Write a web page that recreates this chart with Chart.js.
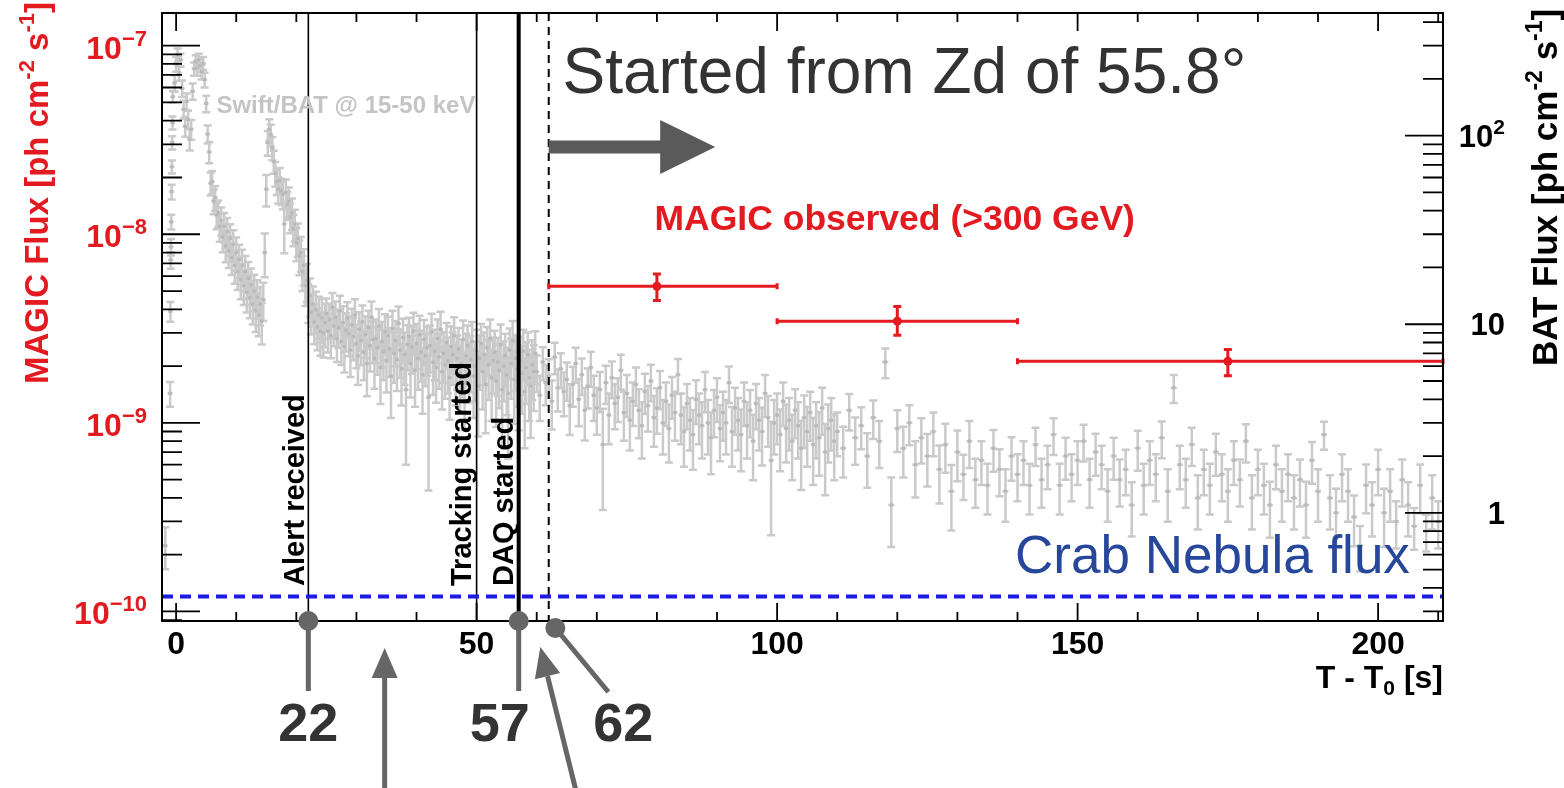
<!DOCTYPE html>
<html>
<head>
<meta charset="utf-8">
<script src="https://cdn.jsdelivr.net/npm/chart.js@4.4.1/dist/chart.umd.min.js"></script>
<style>
  html, body { margin: 0; padding: 0; background: #fff; }
</style>
</head>
<body>
<canvas id="myChart" width="1564" height="788"></canvas>
<script>
// ---- Swift/BAT 15-50 keV light curve (ph cm^-2 s^-1) ----
// pre-trigger / rise points (fine bins)
var batPreTime = [-1.8, -1.0, -0.95, -0.9, -0.85, -0.8, -0.75, -0.7, -0.65, -0.6, -0.55];
var batPreFlux = [0.67, 4.3, 11.7, 21.9, 25.7, 34.9, 50.4, 68.4, 91.8, 117, 161];
var batPreErr  = [25, 15, 12, 10, 10, 9, 9, 8, 8, 8, 7];

// 0.25 s bins from -0.25 s
var batAStart = -0.25, batAWidth = 0.25;
var batAFlux = [
  190, 240, 268, 215, 252, 178, 138, 112, 152, 122,
  96, 108, 172, 226, 247, 228, 252, 236, 218, 242,
  198, 148, 102, 82, 56, 57, 45, 47, 38, 39,
  33, 35.5, 29, 33, 26, 31, 24.5, 28.5, 22.5, 26.5,
  20.5, 24, 19, 22, 17.2, 20.5, 16, 19, 14.8, 17.5,
  13.8, 16.2, 12.8, 15, 11.8, 13.9, 11.2, 12.8, 10.4, 13.5,
  24, 52, 92, 108, 101, 86, 73, 63, 57, 52,
  58, 51, 49, 34, 50, 43, 45, 37, 39, 32,
  34, 27, 28.5, 23, 24, 19, 20.5, 16, 17, 13.2,
  14.2, 11.6, 12.8, 10.3, 11.9, 9.7, 11.2, 9.2, 10.8, 9.0,
  10.2
];
var batAErr = [
  10, 9, 8, 9, 8, 10, 11, 12, 10, 11,
  13, 12, 10, 8, 8, 9, 8, 8, 9, 8,
  9, 10, 11, 13, 14, 14, 15, 15, 16, 16,
  17, 17, 17, 18, 18, 18, 19, 19, 19, 19,
  20, 20, 20, 20, 21, 21, 21, 21, 22, 22,
  22, 22, 22, 22, 23, 23, 23, 23, 25, 23,
  26, 19, 15, 13, 13, 14, 14, 15, 15, 16,
  16, 16, 17, 30, 17, 17, 18, 18, 19, 19,
  19, 20, 20, 21, 21, 21, 22, 22, 23, 23,
  23, 24, 24, 24, 25, 25, 25, 26, 26, 26,
  26
];

// 0.25 s bins from 25 s
var batBStart = 25, batBWidth = 0.25;
var batBFlux = [
  11.4, 9.2, 10.6, 8.7, 12.3, 9.8, 10.9, 8.4,
  9.6, 11.8, 8.1, 10.2, 7.6, 9.3, 10.8, 8.9,
  7.3, 9.9, 8.6, 11.2, 7.9, 6.8, 9.4, 8.2,
  10.3, 7.1, 8.8, 6.2, 9.6, 7.7, 10.9, 8.3,
  6.6, 8.4, 7.5, 9.8, 5.9, 8.1, 7.2, 9.1,
  6.4, 8.7, 7.4, 5.3, 9.5, 7.0, 8.2, 6.5,
  10.1, 7.3, 5.8, 8.5, 6.9, 4.5, 7.8, 8.6,
  6.2, 7.6, 9.2, 5.7, 7.9, 6.6, 8.8, 7.1,
  5.4, 8.3, 6.8, 7.5, 4.1, 7.7, 9.1, 6.3,
  7.2, 5.9, 8.4, 6.7, 9.4, 5.6, 7.0, 6.1,
  8.0, 6.4, 5.2, 7.6, 6.9, 8.7, 5.8, 6.6,
  7.4, 5.5, 6.2, 8.3, 4.9, 6.8, 7.7, 5.9,
  6.5, 8.1, 5.3, 6.0, 7.2, 4.7, 6.6, 7.9,
  5.6, 6.9, 4.8, 7.5, 6.1, 8.4, 5.2, 6.4,
  7.1, 5.0, 6.3, 5.7, 7.8, 4.5, 6.0, 6.8,
  5.4, 4.3, 7.3, 6.2, 8.2, 5.1, 6.6, 5.8,
  4.9, 6.4, 5.5, 7.2, 4.4, 5.9, 6.9, 5.2,
  4.7, 6.1, 5.6, 7.0
];
var batBErr = [
  20, 23, 21, 24, 19, 22, 21, 25,
  22, 20, 25, 22, 27, 23, 21, 24,
  28, 22, 25, 21, 26, 30, 23, 26,
  22, 29, 25, 33, 23, 27, 21, 25,
  31, 26, 28, 23, 36, 27, 30, 24,
  32, 26, 29, 40, 24, 30, 27, 32,
  23, 29, 36, 26, 31, 60, 27, 26,
  34, 28, 25, 36, 27, 32, 26, 30,
  38, 27, 31, 29, 68, 28, 25, 33,
  30, 35, 26, 32, 24, 37, 30, 34,
  27, 33, 40, 28, 31, 25, 36, 32,
  29, 38, 34, 26, 44, 31, 28, 35,
  33, 27, 40, 35, 30, 46, 32, 27,
  37, 31, 45, 29, 35, 26, 41, 33,
  30, 43, 34, 37, 28, 50, 35, 31,
  39, 55, 30, 35, 27, 42, 33, 37,
  44, 34, 39, 30, 50, 36, 31, 41,
  47, 35, 38, 31
];

// 0.5 s bins from 60 s
var batCStart = 60, batCWidth = 0.5;
var batCFlux = [
  5.6, 4.2, 6.3, 4.9, 5.3, 3.9, 6.7, 4.6, 5.8, 4.4,
  5.1, 3.7, 4.8, 6.2, 4.0, 5.4, 3.5, 4.7, 5.9, 4.2,
  3.6, 4.5, 2.3, 4.9, 3.3, 5.2, 3.8, 4.1, 5.7, 3.4,
  4.3, 3.1, 3.9, 4.8, 3.5, 2.9, 4.4, 3.7, 5.0, 3.2,
  3.6, 4.6, 3.0, 3.9, 2.8, 4.2, 3.4, 5.4, 3.3, 2.7,
  3.8, 3.1, 2.6, 4.0, 3.3, 2.9, 4.5, 3.0, 2.5, 3.5,
  4.1, 2.8, 3.4, 3.0, 4.9, 2.7, 3.6, 3.1, 2.6, 3.9,
  2.9, 3.5, 2.4, 3.8, 3.1, 2.7, 4.3, 3.2, 1.9, 3.0,
  3.3, 2.6, 3.9, 2.8, 3.1, 2.4, 3.5, 2.9, 2.2, 3.2,
  2.7, 3.4, 2.3, 2.9, 2.5, 3.6, 2.1, 2.8, 3.1, 2.4
];
var batCErr = [
  22, 27, 20, 24, 23, 29, 19, 25, 21, 26,
  23, 30, 24, 21, 28, 22, 31, 24, 21, 27,
  28, 24, 55, 23, 30, 22, 27, 26, 21, 29,
  25, 31, 26, 23, 29, 33, 24, 27, 22, 30,
  27, 23, 32, 26, 34, 25, 29, 21, 30, 35,
  27, 31, 35, 26, 30, 33, 24, 32, 36, 28,
  26, 33, 29, 32, 22, 35, 28, 31, 36, 26,
  33, 28, 38, 27, 31, 34, 25, 30, 60, 32,
  30, 36, 26, 34, 31, 38, 29, 33, 40, 31,
  35, 29, 39, 33, 37, 28, 41, 34, 31, 38
];

// 1 s bins from 110 s
var batDStart = 110, batDWidth = 1;
var batDFlux = [
  2.7, 2.2, 3.5, 2.5, 2.9, 2.0, 3.2, 2.4, 6.3, 1.1,
  2.8, 2.2, 3.0, 1.8, 2.5, 2.0, 2.7, 1.7, 2.3, 1.3,
  2.1, 1.6, 2.4, 1.5, 1.9, 1.4, 2.2, 1.7, 1.3, 2.0,
  1.6, 1.9, 1.4, 2.3, 1.5, 1.8, 2.6, 1.4, 2.0, 1.6,
  1.9, 2.4, 1.5, 2.1, 1.8, 1.3, 2.0, 1.5, 1.7, 1.1,
  2.2, 1.4, 1.9, 1.6, 2.5, 1.3, 4.6, 1.8, 1.5, 2.3,
  1.2, 1.7, 1.4, 2.1, 1.6, 1.3, 1.9, 1.5, 2.4, 1.2,
  1.7, 1.4, 1.1, 1.8, 1.3, 1.6, 1.2, 1.5, 1.1, 1.9,
  1.3, 2.6, 1.2, 1.0, 1.6, 1.3, 0.95, 0.67, 1.4, 1.1,
  1.7, 1.0, 1.3, 0.9, 1.5, 1.1, 0.85, 1.4, 0.8, 1.2,
  0.9
];
var batDErr = [
  26, 30, 22, 28, 25, 32, 23, 28, 18, 40,
  25, 30, 24, 33, 27, 31, 26, 34, 29, 38,
  30, 27, 28, 29, 26, 30, 25, 28, 31, 26,
  28, 26, 30, 23, 29, 26, 22, 30, 25, 28,
  26, 22, 29, 25, 26, 31, 25, 28, 27, 32,
  24, 30, 26, 28, 22, 31, 17, 26, 29, 23,
  32, 27, 30, 25, 28, 31, 26, 28, 23, 32,
  27, 30, 33, 26, 31, 28, 32, 28, 33, 25,
  31, 17, 32, 34, 28, 31, 30, 27, 29, 32,
  27, 34, 31, 28, 28, 32, 25, 29, 22, 32,
  28
];

// ---- MAGIC > 300 GeV (ph cm^-2 s^-1) ----
var magicTime  = [80, 120, 175];
var magicBinLo = [62, 100, 140];
var magicBinHi = [100, 140, 210.8];
var magicFlux  = [5.3e-9, 3.46e-9, 2.12e-9];
var magicErrUp = [0.85e-9, 0.68e-9, 0.33e-9];
var magicErrDn = [0.85e-9, 0.55e-9, 0.34e-9];

var crabFlux = 1.2e-10;

// event markers
var eventTimes  = [22, 50, 57, 62];
var eventLabels = ['Alert received', 'Tracking started', 'DAQ started', ''];
var calloutLabels = ['22', '57', '62'];

// axis ticks
var xTickLabels = [0, 50, 100, 150, 200];
var leftTickExps = [-10, -9, -8, -7];
var rightTickVals = [1, 10, 100];
var rightTickText = [['1', ''], ['10', ''], ['10', '2']];

// ---- build point list for BAT ----
var batPoints = [];
batPreTime.forEach(function (t, i) {
  batPoints.push({ x: t, y: batPreFlux[i], w: 0.05, e: batPreErr[i] });
});
function addSeg(start, width, flux, err) {
  flux.forEach(function (f, i) {
    batPoints.push({ x: start + i * width, y: f, w: width, e: err[i] });
  });
}
addSeg(batAStart, batAWidth, batAFlux, batAErr);
addSeg(batBStart, batBWidth, batBFlux, batBErr);
addSeg(batCStart, batCWidth, batCFlux, batCErr);
addSeg(batDStart, batDWidth, batDFlux, batDErr);

var magicPoints = magicTime.map(function (t, i) { return { x: t, y: magicFlux[i] }; });

var F = "'Liberation Sans', Arial, Helvetica, sans-serif";
var RED = '#e31a20';
var GREY = '#cacaca';

function drawRuns(ctx, parts, x, y, align) {
  var w = 0;
  ctx.textAlign = 'left';
  parts.forEach(function (p) { ctx.font = p[1]; w += ctx.measureText(p[0]).width; });
  var cx = align === 'right' ? x - w : (align === 'center' ? x - w / 2 : x);
  parts.forEach(function (p) {
    ctx.font = p[1];
    ctx.fillText(p[0], cx, y + (p[2] || 0));
    cx += ctx.measureText(p[0]).width;
  });
}

function arrowHead(ctx, x0, y0, x1, y1, len, half) {
  var ang = Math.atan2(y1 - y0, x1 - x0);
  var bx = x1 - len * Math.cos(ang), by = y1 - len * Math.sin(ang);
  ctx.beginPath();
  ctx.moveTo(x0, y0); ctx.lineTo(bx, by); ctx.stroke();
  ctx.beginPath();
  ctx.moveTo(x1, y1);
  ctx.lineTo(bx + half * Math.sin(ang), by - half * Math.cos(ang));
  ctx.lineTo(bx - half * Math.sin(ang), by + half * Math.cos(ang));
  ctx.closePath(); ctx.fill();
}

var figPlugin = {
  id: 'figPlugin',
  beforeDatasetsDraw: function (chart) {
    var ctx = chart.ctx, a = chart.chartArea, xs = chart.scales.x, yb = chart.scales.yBat;
    ctx.save();
    ctx.beginPath(); ctx.rect(a.left, a.top, a.right - a.left, a.bottom - a.top); ctx.clip();
    ctx.strokeStyle = GREY; ctx.lineWidth = 2.5;
    ctx.beginPath();
    batPoints.forEach(function (p) {
      var x = xs.getPixelForValue(p.x);
      var x0 = xs.getPixelForValue(p.x - p.w / 2), x1 = xs.getPixelForValue(p.x + p.w / 2);
      var y = yb.getPixelForValue(p.y);
      var d = p.y * p.e / 100;
      var yt = yb.getPixelForValue(p.y + d), ybo = yb.getPixelForValue(p.y - d);
      ctx.moveTo(Math.min(x0, x - 2.5), y); ctx.lineTo(Math.max(x1, x + 2.5), y);
      ctx.moveTo(x, yt); ctx.lineTo(x, ybo);
      ctx.moveTo(x - 4, yt); ctx.lineTo(x + 4, yt);
      ctx.moveTo(x - 4, ybo); ctx.lineTo(x + 4, ybo);
    });
    ctx.stroke();
    ctx.restore();
  },
  afterDatasetsDraw: function (chart) {
    var ctx = chart.ctx, a = chart.chartArea, xs = chart.scales.x, yl = chart.scales.y, yr = chart.scales.yBat;
    ctx.save();
    // event lines
    ctx.strokeStyle = '#000';
    eventTimes.forEach(function (t, i) {
      var px = xs.getPixelForValue(t);
      ctx.lineWidth = i === 2 ? 4 : (i === 3 ? 2 : 1.6);
      ctx.setLineDash(i === 3 ? [8, 6] : []);
      ctx.beginPath(); ctx.moveTo(px, a.top); ctx.lineTo(px, a.bottom); ctx.stroke();
    });
    ctx.setLineDash([]);
    // Crab Nebula level
    var cy = yl.getPixelForValue(crabFlux);
    ctx.strokeStyle = '#1c1ce0'; ctx.lineWidth = 4; ctx.setLineDash([11, 7]);
    ctx.beginPath(); ctx.moveTo(a.left, cy); ctx.lineTo(a.right, cy); ctx.stroke();
    ctx.setLineDash([]);
    // MAGIC bins and errors
    ctx.strokeStyle = RED; ctx.lineWidth = 3;
    magicTime.forEach(function (t, i) {
      var y = yl.getPixelForValue(magicFlux[i]);
      var x0 = xs.getPixelForValue(magicBinLo[i]), x1 = xs.getPixelForValue(magicBinHi[i]);
      var x = xs.getPixelForValue(t);
      var yt = yl.getPixelForValue(magicFlux[i] + magicErrUp[i]);
      var ybo = yl.getPixelForValue(magicFlux[i] - magicErrDn[i]);
      ctx.beginPath();
      ctx.moveTo(x0, y); ctx.lineTo(x1, y);
      ctx.moveTo(x0, y - 3); ctx.lineTo(x0, y + 3);
      ctx.moveTo(x1, y - 3); ctx.lineTo(x1, y + 3);
      ctx.moveTo(x, yt); ctx.lineTo(x, ybo);
      ctx.moveTo(x - 4, yt); ctx.lineTo(x + 4, yt);
      ctx.moveTo(x - 4, ybo); ctx.lineTo(x + 4, ybo);
      ctx.stroke();
    });
    // frame
    ctx.strokeStyle = '#000'; ctx.lineWidth = 2;
    ctx.strokeRect(a.left, a.top, a.right - a.left, a.bottom - a.top);
    ctx.lineWidth = 1.8;
    ctx.beginPath();
    for (var t = 0; t <= xs.max; t += 10) {
      var px = xs.getPixelForValue(t), len = (t % 50 === 0) ? 18 : 9;
      ctx.moveTo(px, a.bottom); ctx.lineTo(px, a.bottom - len);
      ctx.moveTo(px, a.top); ctx.lineTo(px, a.top + len);
    }
    for (var e = -11; e <= -7; e++) {
      for (var m = 1; m <= 9; m++) {
        var v = m * Math.pow(10, e);
        if (v < yl.min || v > yl.max) continue;
        var py = yl.getPixelForValue(v);
        ctx.moveTo(a.left, py); ctx.lineTo(a.left + (m === 1 ? 38 : 20), py);
      }
    }
    for (var e2 = -1; e2 <= 2; e2++) {
      for (var m2 = 1; m2 <= 9; m2++) {
        var v2 = m2 * Math.pow(10, e2);
        if (v2 < yr.min || v2 > yr.max) continue;
        var py2 = yr.getPixelForValue(v2);
        ctx.moveTo(a.right, py2); ctx.lineTo(a.right - (m2 === 1 ? 38 : 20), py2);
      }
    }
    ctx.stroke();
    ctx.restore();
  },
  afterDraw: function (chart) {
    var ctx = chart.ctx, a = chart.chartArea, xs = chart.scales.x, yl = chart.scales.y, yr = chart.scales.yBat;
    ctx.save();
    ctx.textBaseline = 'alphabetic';

    // x tick labels
    ctx.fillStyle = '#000'; ctx.font = 'bold 32px ' + F; ctx.textAlign = 'center';
    xTickLabels.forEach(function (v) { ctx.fillText(String(v), xs.getPixelForValue(v), a.bottom + 33); });
    drawRuns(ctx, [['T - T', 'bold 32px ' + F, 0], ['0', 'bold 21px ' + F, 7], [' [s]', 'bold 32px ' + F, 0]], a.right, a.bottom + 67, 'right');

    // left tick labels
    ctx.fillStyle = RED;
    leftTickExps.forEach(function (e) {
      var py = yl.getPixelForValue(Math.pow(10, e));
      drawRuns(ctx, [['10', 'bold 32px ' + F, 0], ['\u2212' + Math.abs(e), 'bold 22px ' + F, -13]], a.left - 15, py + 13, 'right');
    });
    // right tick labels
    ctx.fillStyle = '#000';
    rightTickVals.forEach(function (v, i) {
      var py = yr.getPixelForValue(v);
      var parts = [[rightTickText[i][0], 'bold 31px ' + F, 0]];
      if (rightTickText[i][1]) parts.push([rightTickText[i][1], 'bold 21px ' + F, -13]);
      drawRuns(ctx, parts, a.right + 62, py + 11, 'right');
    });

    // axis titles
    ctx.save();
    ctx.translate(48, 384); ctx.rotate(-Math.PI / 2);
    ctx.fillStyle = RED;
    drawRuns(ctx, [['MAGIC Flux [ph cm', 'bold 33px ' + F, 0], ['-2', 'bold 22px ' + F, -14],
      [' s', 'bold 33px ' + F, 0], ['-1', 'bold 22px ' + F, -14], [']', 'bold 33px ' + F, 0]], 0, 0, 'left');
    ctx.restore();
    ctx.save();
    ctx.translate(1557, 366); ctx.rotate(-Math.PI / 2);
    ctx.fillStyle = '#000';
    drawRuns(ctx, [['BAT Flux [ph cm', 'bold 35px ' + F, 0], ['-2', 'bold 23px ' + F, -15],
      [' s', 'bold 35px ' + F, 0], ['-1', 'bold 23px ' + F, -15], [']', 'bold 35px ' + F, 0]], 0, 0, 'left');
    ctx.restore();

    // vertical event labels
    ctx.fillStyle = '#000'; ctx.font = 'bold 29px ' + F; ctx.textAlign = 'left';
    var labOff = [4, 6, 6];
    eventLabels.forEach(function (s, i) {
      if (!s) return;
      ctx.save();
      ctx.translate(xs.getPixelForValue(eventTimes[i]) - labOff[i], a.bottom - 35);
      ctx.rotate(-Math.PI / 2);
      ctx.fillText(s, 0, 0);
      ctx.restore();
    });

    // in-plot texts
    ctx.fillStyle = '#c4c4c4'; ctx.font = 'bold 24px ' + F;
    ctx.fillText('Swift/BAT @ 15-50 keV', xs.getPixelForValue(6.7), a.top + 100);
    ctx.fillStyle = RED; ctx.font = 'bold 35.5px ' + F;
    ctx.fillText('MAGIC observed (>300 GeV)', xs.getPixelForValue(79.6), a.top + 217);
    ctx.fillStyle = '#333'; ctx.font = '64px ' + F;
    ctx.fillText('Started from Zd of 55.8\u00b0', xs.getPixelForValue(64.3), a.top + 80);
    ctx.fillStyle = '#26479a'; ctx.font = '53px ' + F;
    ctx.fillText('Crab Nebula flux', xs.getPixelForValue(139.6), a.bottom - 48);

    // big arrow from start of observation
    var ax0 = xs.getPixelForValue(62), ax1 = xs.getPixelForValue(89.7), ay = a.top + 134;
    ctx.fillStyle = '#5a5a5a';
    ctx.fillRect(ax0, ay - 6.5, ax1 - ax0 - 54, 13);
    ctx.beginPath();
    ctx.moveTo(ax1, ay); ctx.lineTo(ax1 - 55, ay - 27); ctx.lineTo(ax1 - 55, ay + 27); ctx.closePath(); ctx.fill();

    // callouts below axis
    ctx.fillStyle = '#666'; ctx.strokeStyle = '#666'; ctx.lineWidth = 5;
    var p22 = xs.getPixelForValue(eventTimes[0]), p57 = xs.getPixelForValue(eventTimes[2]);
    var p62 = xs.getPixelForValue(63.1);
    ctx.beginPath(); ctx.moveTo(p22, a.bottom); ctx.lineTo(p22, a.bottom + 70);
    ctx.moveTo(p57, a.bottom); ctx.lineTo(p57, a.bottom + 70);
    ctx.moveTo(p62, a.bottom + 7); ctx.lineTo(p62 + 53, a.bottom + 71);
    ctx.stroke();
    [[p22, a.bottom], [p57, a.bottom], [p62, a.bottom + 7]].forEach(function (c) {
      ctx.beginPath(); ctx.arc(c[0], c[1], 10, 0, Math.PI * 2); ctx.fill();
    });
    var up1 = xs.getPixelForValue(34.7);
    arrowHead(ctx, up1, 790, up1, a.bottom + 27, 30, 13);
    arrowHead(ctx, xs.getPixelForValue(66.5), 790, xs.getPixelForValue(60.6), a.bottom + 26, 30, 13);

    ctx.fillStyle = '#333'; ctx.font = 'bold 54px ' + F; ctx.textAlign = 'center';
    ctx.fillText(calloutLabels[0], p22, a.bottom + 120);
    ctx.fillText(calloutLabels[1], p57 - 19, a.bottom + 120);
    ctx.fillText(calloutLabels[2], p62 + 68, a.bottom + 120);
    ctx.restore();
  }
};

var ctx = document.getElementById('myChart').getContext('2d');
var chart = new Chart(ctx, {
  type: 'scatter',
  data: {
    datasets: [{
      label: 'MAGIC',
      data: magicPoints,
      yAxisID: 'y',
      pointRadius: 4.5,
      pointBackgroundColor: RED,
      pointBorderWidth: 0
    }, {
      label: 'Swift/BAT',
      data: batPoints,
      yAxisID: 'yBat',
      pointStyle: 'rect',
      pointRadius: 2.3,
      pointBackgroundColor: '#b9b9b9',
      pointBorderWidth: 0
    }]
  },
  options: {
    responsive: false,
    animation: false,
    devicePixelRatio: 1,
    layout: { padding: { left: 162, right: 121, top: 13, bottom: 167 } },
    plugins: { legend: { display: false }, tooltip: { enabled: false } },
    scales: {
      x: { type: 'linear', min: -2.35, max: 210.8, bounds: 'data', display: false },
      y: { type: 'logarithmic', position: 'left', min: 8.9e-11, max: 1.49e-7, bounds: 'data', display: false },
      yBat: { type: 'logarithmic', position: 'right', min: 0.267, max: 447, bounds: 'data', display: false }
    }
  },
  plugins: [figPlugin]
});
</script>
</body>
</html>
